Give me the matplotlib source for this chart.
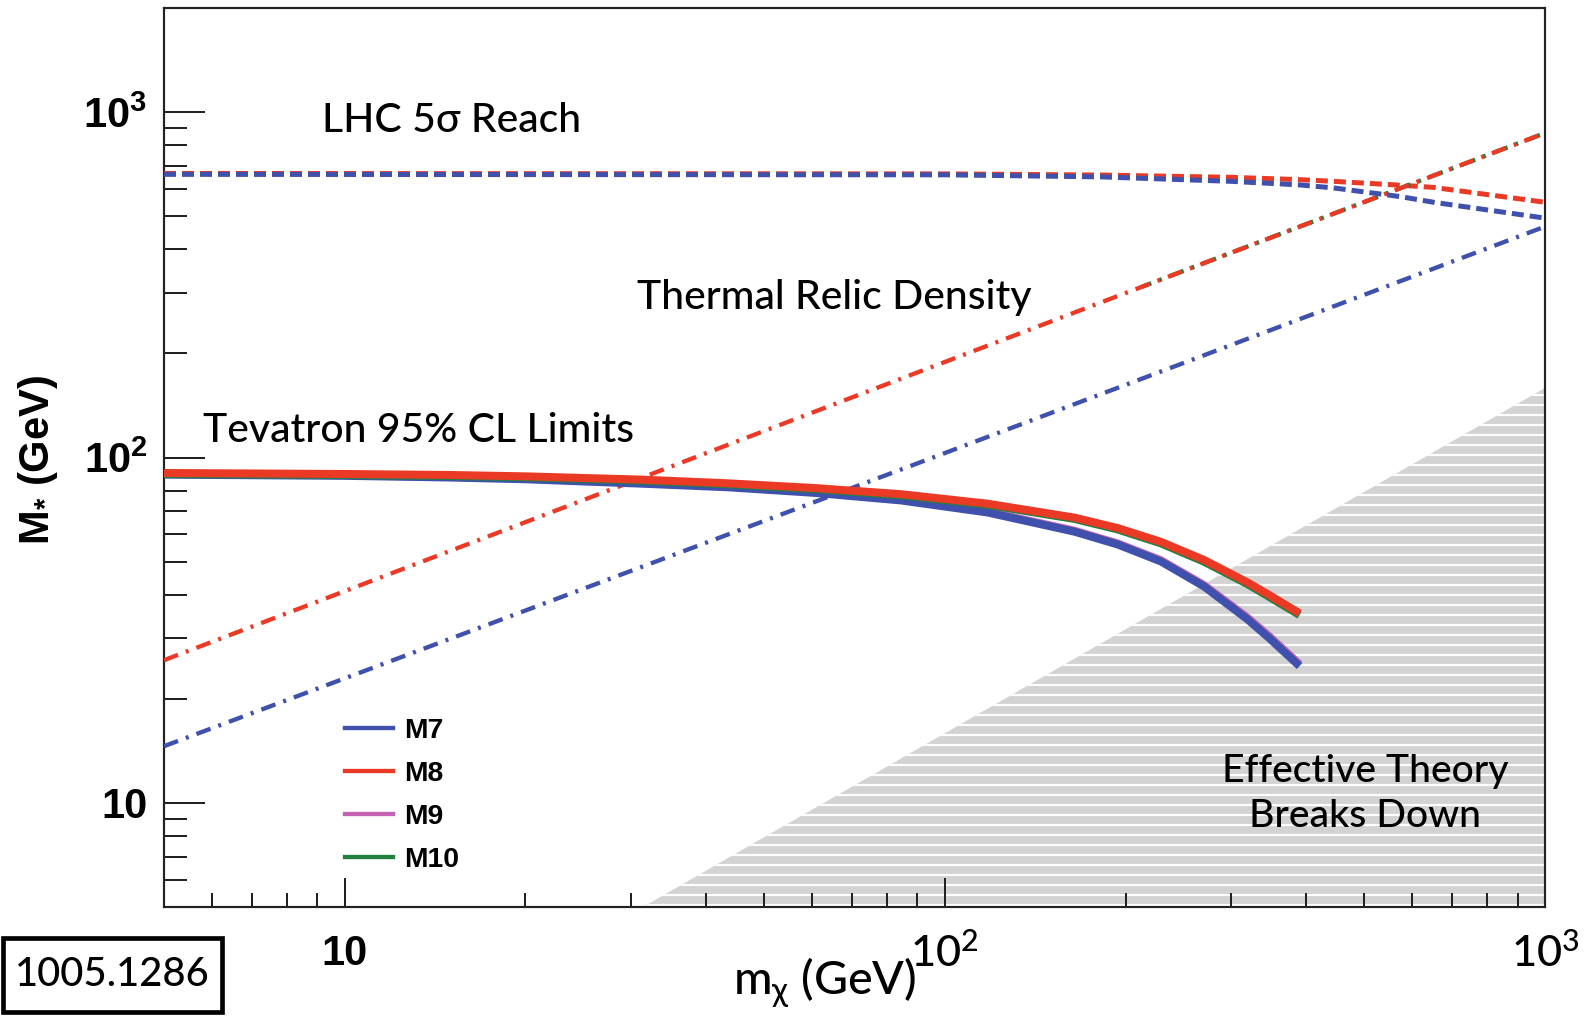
import matplotlib
matplotlib.use("Agg")
import matplotlib.pyplot as plt
from matplotlib.lines import Line2D
from matplotlib.patches import Rectangle

# ---------------- data ----------------
# Tevatron 95% CL limits (solid)
m_tev = [5, 10, 15, 20, 31.2, 43.5, 60.7, 84.6, 117.9, 164.4, 194.1, 229.2, 270.5, 319.4, 347.1, 390]
M8_tev = [90.2, 89.6, 89.0, 88.2, 86.3, 84.2, 81.6, 78.3, 73.5, 67.0, 62.5, 57.0, 50.5, 43.5, 40.0, 35.4]
M7_tev = [89.2, 88.5, 87.5, 86.5, 84.0, 82.0, 79.0, 75.1, 69.3, 61.0, 56.0, 50.0, 42.3, 34.0, 30.0, 24.9]
M10_tev = [89.6, 89.0, 88.4, 87.6, 85.7, 83.6, 81.0, 77.7, 72.9, 66.4, 61.9, 56.4, 49.9, 43.0, 39.5, 35.0]
M9_tev = [89.6, 88.9, 87.9, 86.9, 84.4, 82.4, 79.4, 75.5, 69.7, 61.4, 56.4, 50.4, 42.7, 34.4, 30.4, 25.2]

# LHC 5 sigma reach (dashed)
m_lhc = [5, 100, 182, 300, 391, 444, 574, 652, 1000]
M8_lhc = [664, 662, 657, 647, 637, 630, 614, 605, 548]
M7_lhc = [660, 658, 649, 630, 615, 603, 569, 548, 493]

# Thermal relic density (dash-dot)
m_relic = [5, 100, 1000]
M8_relic = [25.9, 189, 869]
M7_relic = [14.6, 103, 466]
m_relic10 = [213, 1000]
M10_relic = [312, 869]

# Effective theory breakdown boundary
m_break = [31.4, 1000]
M_break = [5.0, 159]

legend_labels = ["M7", "M8", "M9", "M10"]
x_ticks = [10, 100, 1000]
x_ticklabels = ["10", r"$\mathrm{10^{2}}$", r"$\mathrm{10^{3}}$"]
y_ticks = [10, 100, 1000]
y_ticklabels = ["10", r"$\mathbf{10^{2}}$", r"$\mathbf{10^{3}}$"]

# ---------------- style ----------------
plt.rcParams["mathtext.fontset"] = "custom"
plt.rcParams["mathtext.rm"] = "Lato:medium"
plt.rcParams["mathtext.it"] = "Lato:italic"
plt.rcParams["mathtext.bf"] = "Liberation Sans:bold"
plt.rcParams["mathtext.sf"] = "Lato"
plt.rcParams["mathtext.fallback"] = "stixsans"
plt.rcParams["lines.scale_dashes"] = False
plt.rcParams["hatch.linewidth"] = 1.3

BLUE = "#3f50ad"
RED = "#ea3a26"
MAG = "#c462b4"
GREEN = "#22803f"
GILL = ["Lato", "DejaVu Sans"]
GW = "medium"

DPI = 120
fig = plt.figure(figsize=(1585 / DPI, 1017 / DPI), dpi=DPI)
W, H = 1585, 1017
L, R, T, B = 164, 1545, 8, 907
ax = fig.add_axes([L / W, 1 - B / H, (R - L) / W, (B - T) / H])
ax.set_xscale("log")
ax.set_yscale("log")
ax.set_xlim(5, 1000)
ax.set_ylim(5, 2000)

# breakdown region
ax.fill_between(m_break, [M_break[0], M_break[0]], M_break, facecolor="#d3d3d3",
                edgecolor="white", hatch="--", linewidth=0, zorder=1)

dash = (0, (7.2, 3.6))
dashdot = (0, (9.0, 5.0, 1.8, 5.0))

# LHC reach
ax.plot(m_lhc, M8_lhc, color=RED, lw=3.0, linestyle=dash, zorder=3)
ax.plot(m_lhc, M7_lhc, color=BLUE, lw=3.0, linestyle=dash, zorder=3.1)

# thermal relic
ax.plot(m_relic10, M10_relic, color=GREEN, lw=2.6, linestyle=(3, (9.0, 5.0, 1.8, 5.0)), zorder=3)
ax.plot(m_relic, M8_relic, color=RED, lw=2.6, linestyle=dashdot, zorder=3.1)
ax.plot(m_relic, M7_relic, color=BLUE, lw=2.6, linestyle=dashdot, zorder=3.1)

# Tevatron limits
ax.plot(m_tev, M9_tev, color=MAG, lw=4.8, solid_capstyle="butt", solid_joinstyle="round", zorder=4)
ax.plot(m_tev, M7_tev, color=BLUE, lw=4.8, solid_capstyle="butt", solid_joinstyle="round", zorder=4.1)
ax.plot(m_tev, M10_tev, color=GREEN, lw=4.8, solid_capstyle="butt", solid_joinstyle="round", zorder=4.2)
ax.plot(m_tev, M8_tev, color=RED, lw=4.8, solid_capstyle="butt", solid_joinstyle="round", zorder=4.3)

# ---------------- axes styling ----------------
for s in ax.spines.values():
    s.set_linewidth(1.3)
    s.set_color("#222222")
ax.xaxis.set_ticks(x_ticks)
ax.yaxis.set_ticks(y_ticks)
ax.set_xticklabels(x_ticklabels)
ax.set_yticklabels(y_ticklabels)
ax.tick_params(axis="both", which="both", direction="in", top=False, right=False,
               width=1.2, color="#222222")
ax.tick_params(axis="y", which="major", length=24.6, pad=10)
ax.tick_params(axis="y", which="minor", length=13.8)
ax.tick_params(axis="x", which="major", length=17.4, pad=16)
ax.tick_params(axis="x", which="minor", length=8.4)
for i, lab in enumerate(ax.get_xticklabels()):
    if i == 0:
        lab.set_fontfamily("Liberation Sans")
        lab.set_fontweight("bold")
        lab.set_fontsize(25)
    else:
        lab.set_fontsize(26)
for lab in ax.get_yticklabels():
    lab.set_fontfamily("Liberation Sans")
    lab.set_fontweight("bold")
    lab.set_fontsize(25)

# axis titles
fig.text(38 / W, 1 - 460 / H, r"$\mathbf{M_{*}}$ (GeV)", rotation=90, ha="center", va="center",
         fontsize=25, fontweight="bold", family="Liberation Sans")
fig.text(825 / W, 1 - 983 / H, r"$\mathrm{m_{\chi}}$ (GeV)", ha="center", va="center",
         fontsize=28, family=GILL, fontweight=GW)

# annotations
def axfrac(px, py):
    return (px - L) / (R - L), (B - py) / (B - T)

ax.text(*axfrac(322, 120), "LHC 5σ Reach", transform=ax.transAxes, ha="left", va="center",
        fontsize=24.5, family=GILL, fontweight=GW)
ax.text(*axfrac(637, 297), "Thermal Relic Density", transform=ax.transAxes, ha="left",
        va="center", fontsize=24.5, family=GILL, fontweight=GW)
ax.text(*axfrac(203, 430), "Tevatron 95% CL Limits", transform=ax.transAxes, ha="left",
        va="center", fontsize=24.5, family=GILL, fontweight=GW)
ax.text(*axfrac(1365, 794), "Effective Theory\nBreaks Down", transform=ax.transAxes,
        ha="center", va="center", fontsize=23.5, family=GILL, fontweight=GW,
        linespacing=1.35, zorder=5)

# legend
handles = [Line2D([], [], color=c, lw=2.6) for c in (BLUE, RED, MAG, GREEN)]
ax.legend(handles, legend_labels, loc="upper left", bbox_to_anchor=axfrac(345, 718),
          frameon=False, borderpad=0, borderaxespad=0, handlelength=1.71,
          handletextpad=0.36, labelspacing=0.6,
          prop={"family": "Liberation Sans", "weight": "bold", "size": 17})

# arXiv id box
fig.add_artist(Rectangle((3 / W, 1 - 1012 / H), 219 / W, 74 / H, transform=fig.transFigure,
                         facecolor="white", edgecolor="black", linewidth=2.8))
fig.text(112 / W, 1 - 975 / H, "1005.1286", ha="center", va="center", fontsize=24,
         family=GILL, fontweight=GW)

fig.savefig("out.png", dpi=DPI)
